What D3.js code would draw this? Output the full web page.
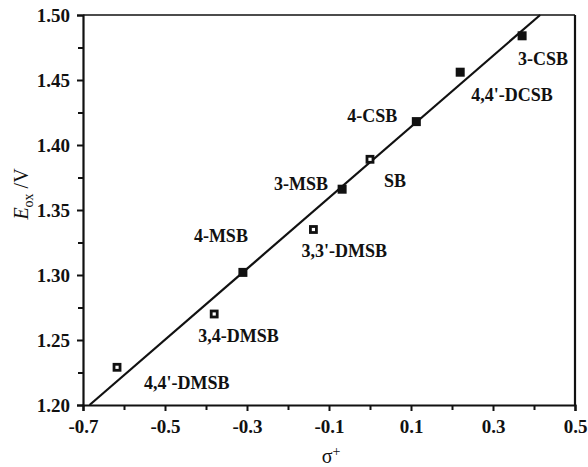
<!DOCTYPE html>
<html>
<head>
<meta charset="utf-8">
<script src="https://cdn.jsdelivr.net/npm/d3@7"></script>
<style>
  body { margin: 0; background: #fff; }
  text { font-family: "Liberation Serif", "Times New Roman", serif; fill: #111; }
</style>
</head>
<body>
<svg id="svg" width="588" height="467"></svg>
<script>
// data
const compounds = ["4,4'-DMSB", "3,4-DMSB", "4-MSB", "3,3'-DMSB", "3-MSB", "SB", "4-CSB", "4,4'-DCSB", "3-CSB"];
const sigma = [-0.617, -0.380, -0.310, -0.138, -0.068, 0.000, 0.113, 0.220, 0.371];
const eox = [1.229, 1.270, 1.302, 1.335, 1.366, 1.389, 1.418, 1.456, 1.484];
const hollow = [true, true, false, true, false, true, false, false, false];
// label placement (px) relative to the marker
const labelDx = [27, -16, -49, -12, -68, 14, -19, 11, -4];
const labelDy = [22, 28, -30, 27, 1, 28, 0, 29, 29];
const labelAnchor = ["start", "start", "start", "start", "start", "start", "end", "start", "start"];
const fitLine = [[-0.684, 1.20], [0.415, 1.50]];
const xTicks = [-0.7, -0.5, -0.3, -0.1, 0.1, 0.3, 0.5];
const xMinor = [-0.6, -0.4, -0.2, 0.0, 0.2, 0.4];
const yTicks = [1.20, 1.25, 1.30, 1.35, 1.40, 1.45, 1.50];
const yMinor = [1.225, 1.275, 1.325, 1.375, 1.425, 1.475];

const svg = d3.select("#svg");
const mLeft = 83, mRight = 575, mTop = 15, mBottom = 405;

const x = d3.scaleLinear().domain([-0.7, 0.5]).range([mLeft, mRight]);
const y = d3.scaleLinear().domain([1.20, 1.50]).range([mBottom, mTop]);

const g = svg.append("g");

// frame (top + right)
g.append("line").attr("x1", mLeft).attr("x2", mRight).attr("y1", mTop).attr("y2", mTop)
  .attr("stroke", "#111").attr("stroke-width", 1.6);
g.append("line").attr("x1", mRight).attr("x2", mRight).attr("y1", mTop).attr("y2", mBottom)
  .attr("stroke", "#111").attr("stroke-width", 2.2);

// axes
g.append("g").attr("transform", `translate(0,${mBottom})`)
  .call(d3.axisBottom(x).tickValues(xTicks).tickSize(6).tickPadding(9)
    .tickFormat(d => d3.format(".1f")(d).replace("−", "-")));
g.append("g").attr("transform", `translate(0,${mBottom})`)
  .call(d3.axisBottom(x).tickValues(xMinor).tickSize(5).tickFormat(""))
  .select(".domain").remove();

g.append("g").attr("transform", `translate(${mLeft},0)`)
  .call(d3.axisLeft(y).tickValues(yTicks).tickSize(6).tickPadding(7).tickFormat(d3.format(".2f")));
g.append("g").attr("transform", `translate(${mLeft},0)`)
  .call(d3.axisLeft(y).tickValues(yMinor).tickSize(5).tickFormat(""))
  .select(".domain").remove();

g.selectAll(".domain").attr("stroke", "#111").attr("stroke-width", 2.2);
g.selectAll(".tick line").attr("stroke", "#111").attr("stroke-width", 2);
g.selectAll(".tick text")
  .style("font-family", "'Liberation Serif', serif")
  .style("font-size", "19px").style("font-weight", "bold").attr("fill", "#111");

// axis titles
g.append("text")
  .attr("x", x(-0.1) + 2).attr("y", 463)
  .attr("text-anchor", "middle")
  .style("font-size", "20px")
  .html('σ<tspan dy="-7" font-size="14">+</tspan>');

const yl = g.append("text")
  .attr("transform", "translate(28,194) rotate(-90)")
  .attr("text-anchor", "middle")
  .style("font-size", "20px");
yl.append("tspan").attr("font-style", "italic").text("E");
yl.append("tspan").attr("dy", 5).attr("font-size", "14px").text("ox");
yl.append("tspan").attr("dy", -5).text(" /V");

// regression line
g.append("line")
  .attr("x1", x(fitLine[0][0])).attr("y1", y(fitLine[0][1]))
  .attr("x2", x(fitLine[1][0])).attr("y2", y(fitLine[1][1]))
  .attr("stroke", "#111").attr("stroke-width", 2.2);

// points
const pts = compounds.map((c, i) => ({
  name: c, s: sigma[i], e: eox[i], hollow: hollow[i],
  dx: labelDx[i], dy: labelDy[i], anchor: labelAnchor[i]
}));

g.selectAll("rect.pt")
  .data(pts)
  .enter()
  .append("rect")
  .attr("class", "pt")
  .attr("x", d => x(d.s) - (d.hollow ? 3 : 4.5))
  .attr("y", d => y(d.e) - (d.hollow ? 3 : 4.5))
  .attr("width", d => d.hollow ? 6 : 9)
  .attr("height", d => d.hollow ? 6 : 9)
  .attr("fill", d => d.hollow ? "#fff" : "#111")
  .attr("stroke", "#111")
  .attr("stroke-width", d => d.hollow ? 2.8 : 0);

g.selectAll("text.lbl")
  .data(pts)
  .enter()
  .append("text")
  .attr("class", "lbl")
  .attr("x", d => x(d.s) + d.dx)
  .attr("y", d => y(d.e) + d.dy)
  .attr("text-anchor", d => d.anchor)
  .style("font-size", "18px")
  .style("font-weight", "bold")
  .text(d => d.name);
</script>
</body>
</html>
